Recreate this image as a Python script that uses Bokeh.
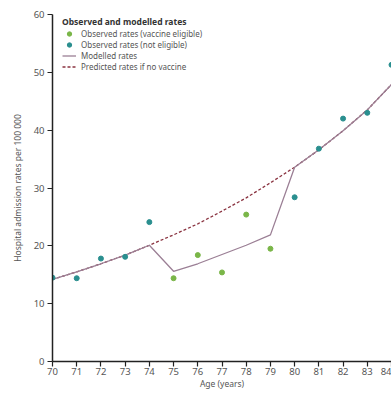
from bokeh.plotting import figure
from bokeh.models import Range1d, FixedTicker, Legend, LegendItem
from bokeh.embed import file_html
from bokeh.resources import INLINE

ages = [70, 71, 72, 73, 74, 75, 76, 77, 78, 79, 80, 81, 82, 83, 84]
observed = [14.5, 14.4, 17.8, 18.1, 24.1, 14.4, 18.4, 15.4, 25.4, 19.5, 28.4, 36.8, 42.0, 43.0, 51.3]
eligible = [False, False, False, False, False, True, True, True, True, True, False, False, False, False, False]
modelled = [14.2, 15.5, 16.9, 18.4, 20.1, 15.6, 16.9, 18.5, 20.1, 21.9, 33.6, 36.6, 39.9, 43.5, 47.9]
predicted = [14.2, 15.5, 16.9, 18.4, 20.1, 21.9, 23.8, 26.0, 28.3, 30.9, 33.6, 36.6, 39.9, 43.5, 47.9]
y_ticks = [0, 10, 20, 30, 40, 50, 60]

FONT = "Noto Sans"
TXT = "#555555"

p = figure(width=391, height=391, output_backend="svg", toolbar_location=None,
           x_range=Range1d(70, 84), y_range=Range1d(0, 60),
           min_border_left=52, min_border_right=0, min_border_top=14, min_border_bottom=10)
p.outline_line_color = None
p.xgrid.visible = False
p.ygrid.visible = False
p.background_fill_color = "white"

for ax in (p.xaxis[0], p.yaxis[0]):
    ax.axis_line_color = "#222222"
    ax.axis_line_width = 1.5
    ax.major_tick_line_color = "#222222"
    ax.major_tick_line_width = 1.2
    ax.major_tick_out = 5
    ax.major_tick_in = 0
    ax.minor_tick_line_color = None
    ax.major_label_text_font = FONT
    ax.major_label_text_font_size = "9.5px"
    ax.major_label_text_color = TXT
    ax.axis_label_text_font = FONT
    ax.axis_label_text_font_size = "8.5px"
    ax.axis_label_text_color = TXT
    ax.axis_label_text_font_style = "normal"

p.xaxis[0].ticker = FixedTicker(ticks=ages)
p.yaxis[0].ticker = FixedTicker(ticks=y_ticks)
p.xaxis[0].axis_label = "Age (years)"
p.yaxis[0].axis_label = "Hospital admission rates per 100 000"
p.xaxis[0].major_label_standoff = 1
p.yaxis[0].major_label_standoff = 3
p.xaxis[0].axis_label_standoff = 0
p.yaxis[0].axis_label_standoff = 8

r_pred = p.line(ages, predicted, line_color="#8a3340", line_width=1.3, line_dash="3 2")
r_mod = p.line(ages, modelled, line_color="#9b7f95", line_width=1.3)

el_x = [a for a, e in zip(ages, eligible) if e]
el_y = [v for v, e in zip(observed, eligible) if e]
ne_x = [a for a, e in zip(ages, eligible) if not e]
ne_y = [v for v, e in zip(observed, eligible) if not e]
r_el = p.scatter(el_x, el_y, size=5, fill_color="#7ab648", line_color="#7ab648")
r_ne = p.scatter(ne_x, ne_y, size=5, fill_color="#2a8f8f", line_color="#2a8f8f")

legend = Legend(items=[
    LegendItem(label="Observed rates (vaccine eligible)", renderers=[r_el]),
    LegendItem(label="Observed rates (not eligible)", renderers=[r_ne]),
    LegendItem(label="Modelled rates", renderers=[r_mod]),
    LegendItem(label="Predicted rates if no vaccine", renderers=[r_pred]),
], location=(10, 289))
legend.title = "Observed and modelled rates"
legend.title_text_font = FONT
legend.title_text_font_size = "8.5px"
legend.title_text_font_style = "bold"
legend.title_text_color = "#333333"
legend.title_standoff = 1
legend.label_text_font = FONT
legend.label_text_font_size = "8px"
legend.label_text_color = TXT
legend.label_height = 11
legend.glyph_height = 11
legend.glyph_width = 14
legend.label_standoff = 5
legend.spacing = 0
legend.padding = 0
legend.margin = 0
legend.border_line_color = None
legend.background_fill_alpha = 0
p.add_layout(legend)

open("out.html", "w").write(file_html(p, INLINE))
